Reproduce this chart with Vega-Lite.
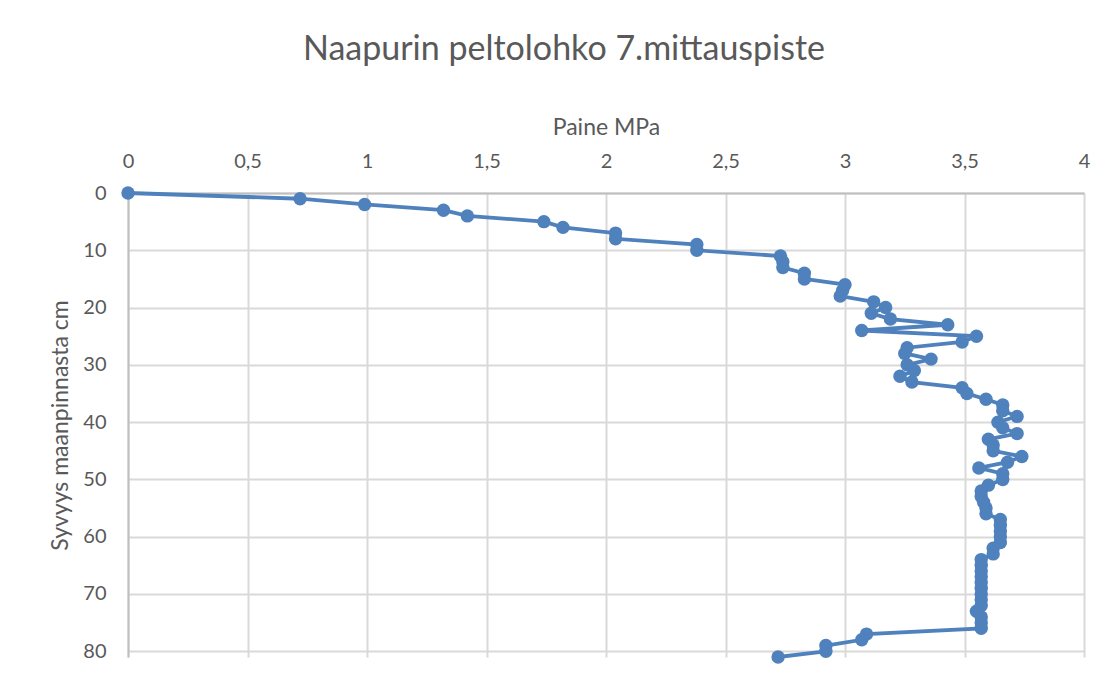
{
  "$schema": "https://vega.github.io/schema/vega-lite/v6.json",
  "autosize": "none",
  "width": 956,
  "height": 464,
  "padding": {"left": 128, "top": 193, "right": 33, "bottom": 25},
  "background": "white",
  "title": {
    "text": "Naapurin peltolohko 7.mittauspiste",
    "font": "Lato",
    "fontSize": 34,
    "fontWeight": "normal",
    "color": "#595959",
    "anchor": "middle",
    "dx": -42,
    "offset": 49
  },
  "config": {
    "view": {"stroke": null},
    "font": "Lato"
  },
  "data": {
    "values": [
      {"d": 0, "p": 0}, {"d": 1, "p": 0.72}, {"d": 2, "p": 0.99}, {"d": 3, "p": 1.32},
      {"d": 4, "p": 1.42}, {"d": 5, "p": 1.74}, {"d": 6, "p": 1.82}, {"d": 7, "p": 2.04},
      {"d": 8, "p": 2.04}, {"d": 9, "p": 2.38}, {"d": 10, "p": 2.38}, {"d": 11, "p": 2.73},
      {"d": 12, "p": 2.74}, {"d": 13, "p": 2.74}, {"d": 14, "p": 2.83}, {"d": 15, "p": 2.83},
      {"d": 16, "p": 3.0}, {"d": 17, "p": 2.99}, {"d": 18, "p": 2.98}, {"d": 19, "p": 3.12},
      {"d": 20, "p": 3.17}, {"d": 21, "p": 3.11}, {"d": 22, "p": 3.19}, {"d": 23, "p": 3.43},
      {"d": 24, "p": 3.07}, {"d": 25, "p": 3.55}, {"d": 26, "p": 3.49}, {"d": 27, "p": 3.26},
      {"d": 28, "p": 3.25}, {"d": 29, "p": 3.36}, {"d": 30, "p": 3.26}, {"d": 31, "p": 3.29},
      {"d": 32, "p": 3.23}, {"d": 33, "p": 3.28}, {"d": 34, "p": 3.49}, {"d": 35, "p": 3.51},
      {"d": 36, "p": 3.59}, {"d": 37, "p": 3.66}, {"d": 38, "p": 3.66}, {"d": 39, "p": 3.72},
      {"d": 40, "p": 3.64}, {"d": 41, "p": 3.66}, {"d": 42, "p": 3.72}, {"d": 43, "p": 3.6},
      {"d": 44, "p": 3.62}, {"d": 45, "p": 3.62}, {"d": 46, "p": 3.74}, {"d": 47, "p": 3.68},
      {"d": 48, "p": 3.56}, {"d": 49, "p": 3.66}, {"d": 50, "p": 3.66}, {"d": 51, "p": 3.6},
      {"d": 52, "p": 3.57}, {"d": 53, "p": 3.57}, {"d": 54, "p": 3.58}, {"d": 55, "p": 3.59},
      {"d": 56, "p": 3.59}, {"d": 57, "p": 3.65}, {"d": 58, "p": 3.65}, {"d": 59, "p": 3.65},
      {"d": 60, "p": 3.65}, {"d": 61, "p": 3.65}, {"d": 62, "p": 3.62}, {"d": 63, "p": 3.62},
      {"d": 64, "p": 3.57}, {"d": 65, "p": 3.57}, {"d": 66, "p": 3.57}, {"d": 67, "p": 3.57},
      {"d": 68, "p": 3.57}, {"d": 69, "p": 3.57}, {"d": 70, "p": 3.57}, {"d": 71, "p": 3.57},
      {"d": 72, "p": 3.57}, {"d": 73, "p": 3.55}, {"d": 74, "p": 3.57}, {"d": 75, "p": 3.57},
      {"d": 76, "p": 3.57}, {"d": 77, "p": 3.09}, {"d": 78, "p": 3.07}, {"d": 79, "p": 2.92},
      {"d": 80, "p": 2.92}, {"d": 81, "p": 2.72}
    ]
  },
  "mark": {
    "type": "line",
    "color": "#4f81bd",
    "strokeWidth": 3.8,
    "point": {"filled": true, "size": 180, "color": "#4f81bd", "opacity": 1}
  },
  "encoding": {
    "x": {
      "field": "p",
      "type": "quantitative",
      "scale": {"domain": [0, 4], "nice": false, "zero": true},
      "axis": {
        "orient": "top",
        "title": "Paine MPa",
        "values": [0, 0.5, 1, 1.5, 2, 2.5, 3, 3.5, 4],
        "labelExpr": "replace(format(datum.value, '~g'), '.', ',')",
        "labelFont": "Lato",
        "labelFontSize": 20,
        "labelColor": "#595959",
        "labelPadding": 22,
        "labelFlush": false,
        "titleFont": "Lato",
        "titleFontSize": 23,
        "titleFontWeight": "normal",
        "titleColor": "#595959",
        "titlePadding": 12,
        "ticks": false,
        "domain": true,
        "domainColor": "#bfbfbf",
        "domainWidth": 2,
        "grid": true,
        "gridColor": "#d9d9d9",
        "gridWidth": 2
      }
    },
    "y": {
      "field": "d",
      "type": "quantitative",
      "scale": {"domain": [0, 81], "nice": false, "reverse": true, "zero": true},
      "axis": {
        "orient": "left",
        "title": "Syvyys maanpinnasta cm",
        "values": [0, 10, 20, 30, 40, 50, 60, 70, 80],
        "labelFont": "Lato",
        "labelFontSize": 20,
        "labelColor": "#595959",
        "labelPadding": 22,
        "labelFlush": false,
        "titleFont": "Lato",
        "titleFontSize": 23,
        "titleFontWeight": "normal",
        "titleColor": "#595959",
        "titlePadding": 10,
        "ticks": false,
        "domain": true,
        "domainColor": "#bfbfbf",
        "domainWidth": 2,
        "grid": true,
        "gridColor": "#d9d9d9",
        "gridWidth": 2
      }
    },
    "order": {"field": "d", "type": "quantitative"}
  }
}
